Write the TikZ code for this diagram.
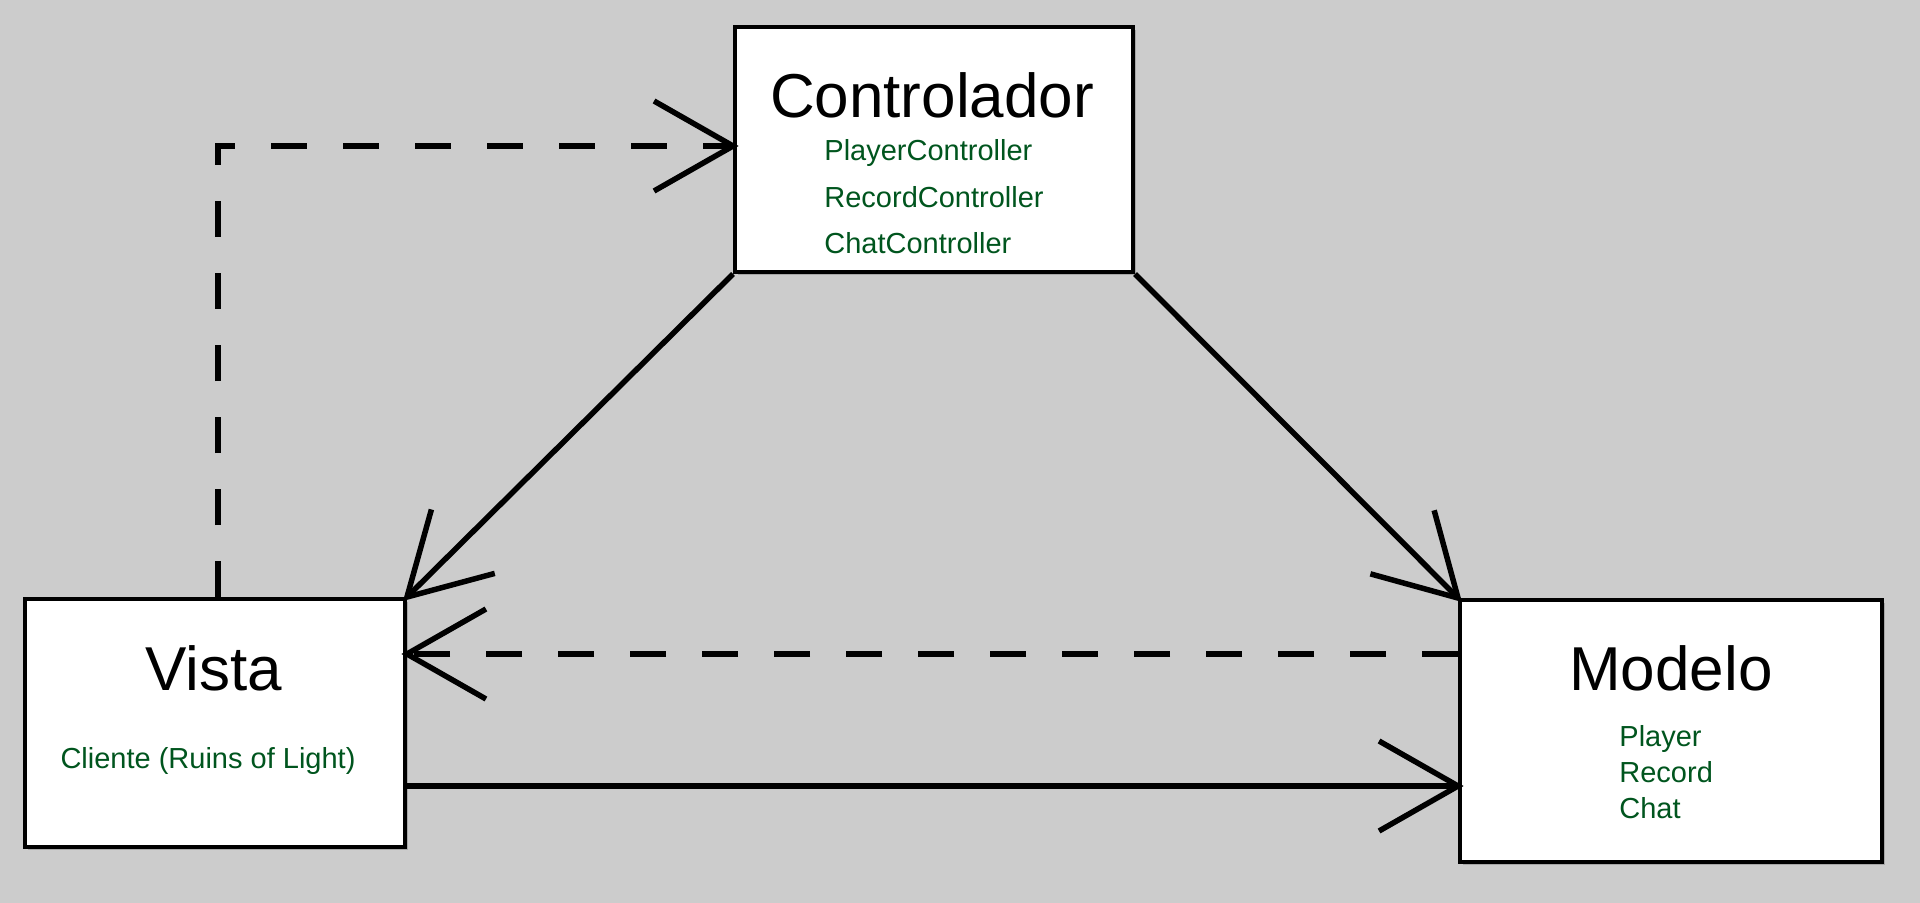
\documentclass[tikz,border=0pt]{standalone}
\usepackage{fontspec}
\setmainfont{Liberation Sans}
\usetikzlibrary{arrows.meta,shadows}
\definecolor{bg}{HTML}{CCCCCC}
\definecolor{dgreen}{RGB}{0,85,30}
\begin{document}
\begin{tikzpicture}[x=0.5pt,y=-0.5pt,
  box/.style={draw=black, line width=2pt, fill=white, inner sep=0pt,
    general shadow={shadow xshift=1.6pt, shadow yshift=-1.6pt, fill=black, opacity=0.18}},
  title/.style={anchor=base, font=\fontsize{31}{37}\selectfont},
  item/.style={anchor=base west, text=dgreen, font=\fontsize{14.5}{17}\selectfont, inner sep=0pt},
  conn/.style={line width=2.75pt, shorten >=-2.8pt, -{Straight Barb[length=39.5pt, width=45pt]}},
  dashconn/.style={conn, dash pattern=on 18pt off 18pt}]
\fill[bg] (0,0) rectangle (1920,903);
\useasboundingbox (0,0) rectangle (1920,903);

\node[box, minimum width=199pt, minimum height=122.5pt] (ctrl) at (934,149.5) {};
\node[box, minimum width=190pt, minimum height=124pt] (vista) at (215,723) {};
\node[box, minimum width=211pt, minimum height=131pt] (modelo) at (1671,731) {};

\node[title] (ctrlT) at (932,118) {Controlador};
\node[title] (vistaT) at (214,690) {Vista};
\node[title] (modeloT) at (1671,690) {Modelo};

\node[item] (pc) at (824,161) {PlayerController};
\node[item] (rc) at (824,208) {RecordController};
\node[item] (cc) at (824,254) {ChatController};

\node[item] (pl) at (1619,746) {Player};
\node[item] (rec) at (1619,782) {Record};
\node[item] (ch) at (1619,818) {Chat};

\node[item, anchor=base] (cli) at (208,768) {Cliente (Ruins of Light)};

\draw[dashconn] ([xshift=1.5pt]vista.north) |- ([yshift=1.75pt]ctrl.west);
\draw[conn] (ctrl.south west) -- (vista.north east);
\draw[conn] (ctrl.south east) -- (modelo.north west);
\draw[dashconn] (modelo.west |- 0,654) -- (vista.east |- 0,654);
\draw[conn] (vista.east |- 0,786) -- (modelo.west |- 0,786);
\end{tikzpicture}
\end{document}
